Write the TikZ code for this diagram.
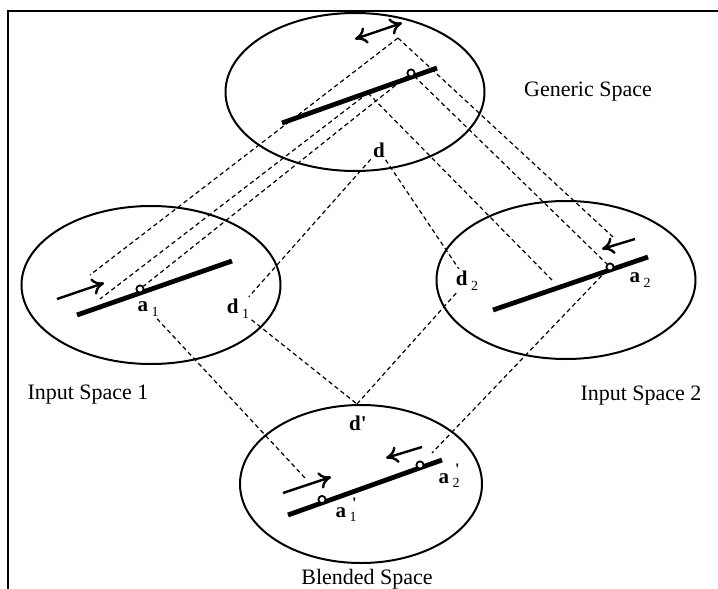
\documentclass[tikz,border=0pt]{standalone}
\usepackage{fontspec}
\setmainfont{Liberation Serif}
\usetikzlibrary{shapes.geometric,arrows.meta}
\newcommand{\ix}[2]{\textbf{#1}\,\raisebox{-0.5ex}{\fontsize{7}{7}\selectfont #2}}
\newcommand{\ixp}[2]{\textbf{#1}\,\raisebox{-0.5ex}{\fontsize{7}{7}\selectfont #2}\llap{\raisebox{0.9ex}{\fontsize{8}{8}\selectfont\bfseries\textquotesingle}}}

\begin{document}
\begin{tikzpicture}[x=0.5pt, y=-0.5pt,
    >={To[length=6pt, width=8.5pt]},
    space/.style={draw, ellipse, line width=1pt, inner sep=0pt,
                  minimum width=129.5pt, minimum height=79pt},
    track/.style={line width=2.4pt},
    spot/.style={draw, circle, fill=white, line width=0.9pt,
                 minimum size=3.6pt, inner sep=0pt},
    mover/.style={line width=1.2pt},
    map/.style={dash pattern=on 2.2pt off 1.6pt, line width=0.6pt},
    elem/.style={font=\fontsize{10.5}{12}\selectfont, inner sep=1pt},
    title/.style={font=\fontsize{11}{13}\selectfont, inner sep=0pt}]
  \useasboundingbox (0,0) rectangle (718,589);
  \draw[line width=0.8pt] (8,589) -- (8,11) -- (718,11);

  \node[space] (gen) at (355,92) {};
  \node[space] (in1) at (151,285) {};
  \node[space] (in2) at (566,280) {};
  \node[space, minimum width=121pt] (bl) at (361,484) {};

  \node[title] (tgen) at (588,92) {Generic Space};
  \node[title] (tin1) at (88,395) {Input Space 1};
  \node[title] (tin2) at (641,396) {Input Space 2};
  \node[title] (tbl) at (367,579) {Blended Space};

  \coordinate (g0) at (282,123); \coordinate (g1) at (437,68);
  \coordinate (i0) at (77,315);  \coordinate (i1) at (232,261);
  \coordinate (j0) at (493,310); \coordinate (j1) at (648,257);
  \coordinate (k0) at (288,515); \coordinate (k1) at (442,460);
  \draw[track] (g0) -- (g1);
  \draw[track] (i0) -- (i1);
  \draw[track] (j0) -- (j1);
  \draw[track] (k0) -- (k1);

  \node[spot] (gs) at (411,73) {};
  \node[spot] (s1) at (140,289) {};
  \node[spot] (s2) at (610,267) {};
  \node[spot] (t1) at (322,499.5) {};
  \node[spot] (t2) at (420,465) {};

  \coordinate (gv0) at (355,39);  \coordinate (gv1) at (402,23);
  \coordinate (v10) at (57,299);  \coordinate (v11) at (104,283);
  \coordinate (v20) at (635,239); \coordinate (v21) at (602,249);
  \coordinate (w10) at (283,493); \coordinate (w11) at (331,477);
  \coordinate (w20) at (422,447); \coordinate (w21) at (386,458);
  \draw[mover, <->] (gv0) -- (gv1);
  \draw[mover, ->] (v10) -- (v11);
  \draw[mover, ->] (v20) -- (v21);
  \draw[mover, ->] (w10) -- (w11);
  \draw[mover, ->] (w20) -- (w21);

  \node[elem] (d) at (379,150) {\textbf{d}};
  \node[elem] (a1) at (148,309) {\ix{a}{1}};
  \node[elem] (d1) at (238,309) {\ix{d}{1}};
  \node[elem] (d2) at (467,281) {\ix{d}{2}};
  \node[elem] (a2) at (640,280) {\ix{a}{2}};
  \node[elem] (dp) at (358,423) {\textbf{d\textquotesingle}};
  \node[elem] (a1p) at (346,510) {\ixp{a}{1}};
  \node[elem] (a2p) at (449,476) {\ixp{a}{2}};

  \coordinate (gv) at (398,38);
  \coordinate (gm) at (368,93);
  \coordinate (m1) at (90,275);  \coordinate (m2) at (613,237);
  \coordinate (p1) at (100,299); \coordinate (p2) at (552,280);
  \coordinate (b1) at (305,478); \coordinate (b2) at (432,453);
  \coordinate (bd) at (357,404);
  \draw[map] (gv) -- (m1);
  \draw[map] (gv) -- (m2);
  \draw[map] (gs) -- (s1);
  \draw[map] (gs) -- (s2);
  \draw[map] (gm) -- (p1);
  \draw[map] (gm) -- (p2);
  \draw[map] (d) -- (d1);
  \draw[map] (d) -- (d2);
  \draw[map] (a1) -- (b1);
  \draw[map] (s2) -- (b2);
  \draw[map] (d1) -- (bd);
  \draw[map] (d2) -- (bd);
\end{tikzpicture}
\end{document}
